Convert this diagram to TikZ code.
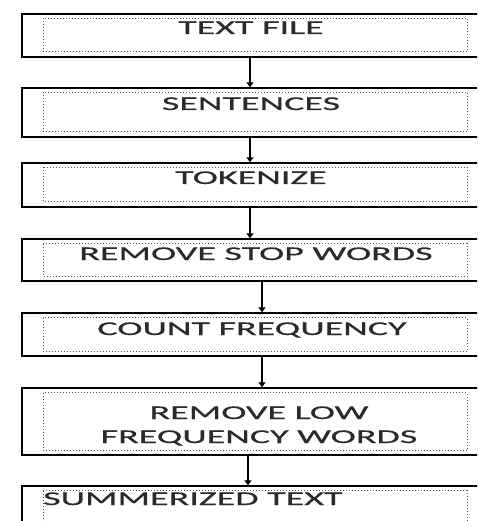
\documentclass[tikz,border=0pt]{standalone}
\usepackage{fontspec}
\usepackage{tikz}
\usetikzlibrary{arrows.meta,positioning}
\newfontfamily\stagefont[FakeStretch=1.95,FakeBold=0.6]{Carlito}
\definecolor{StageInk}{HTML}{2A2A2A}
\definecolor{StageDots}{HTML}{555555}

\begin{document}
\begin{tikzpicture}[x=1pt, y=-1pt,
  stage/.style={draw=black, line width=1.4pt, minimum width=468pt, inner sep=0pt,
                path picture={\draw[StageDots, dotted, line width=1pt]
                  ([xshift=21pt,yshift=-4.5pt]path picture bounding box.north west) rectangle
                  ([xshift=-23pt,yshift=5pt]path picture bounding box.south east);}},
  caption/.style={anchor=base, text=StageInk, align=center, inner sep=0pt,
                  font=\stagefont\fontsize{19.5}{24}\selectfont},
  flow/.style={-{Triangle[width=7pt,length=5pt]}, line width=1.4pt}
]
\useasboundingbox (0,0) rectangle (477,521);
\clip (0,0) rectangle (477,521);
% outer boxes, cut off at the right edge
\node[stage, minimum height=43pt] (s1) at (256,35.5) {};
\node[stage, minimum height=49pt] (s2) at (256,112.5) {};
\node[stage, minimum height=44pt] (s3) at (256,185) {};
\node[stage, minimum height=42pt] (s4) at (256,260) {};
\node[stage, minimum height=43pt] (s5) at (256,334.5) {};
\node[stage, minimum height=67pt] (s6) at (256,421.5) {};
\node[stage, minimum height=54pt] (s7) at (256,513) {};
% texts
\node[caption] (t1) at (251,34) {TEXT FILE};
\node[caption] (t2) at (251,110) {SENTENCES};
\node[caption] (t3) at (251,184) {TOKENIZE};
\node[caption] (t4) at (256,260) {REMOVE STOP WORDS};
\node[caption] (t5) at (252,335) {COUNT FREQUENCY};
\node[caption] (t6) at (259,443) {REMOVE LOW\\FREQUENCY WORDS};
\node[caption, anchor=base west] (t7) at (43,505) {SUMMERIZED TEXT};
% arrows
\draw[flow] ([xshift=-6pt]s1.south) -- ([xshift=-6pt]s1.south |- s2.north);
\draw[flow] ([xshift=-6pt]s2.south) -- ([xshift=-6pt]s2.south |- s3.north);
\draw[flow] ([xshift=-6pt]s3.south) -- ([xshift=-6pt]s3.south |- s4.north);
\draw[flow] ([xshift=6pt]s4.south) -- ([xshift=6pt]s4.south |- s5.north);
\draw[flow] ([xshift=6pt]s5.south) -- ([xshift=6pt]s5.south |- s6.north);
\draw[flow] ([xshift=-8pt]s6.south) -- ([xshift=-8pt]s6.south |- s7.north);
\end{tikzpicture}
\end{document}
